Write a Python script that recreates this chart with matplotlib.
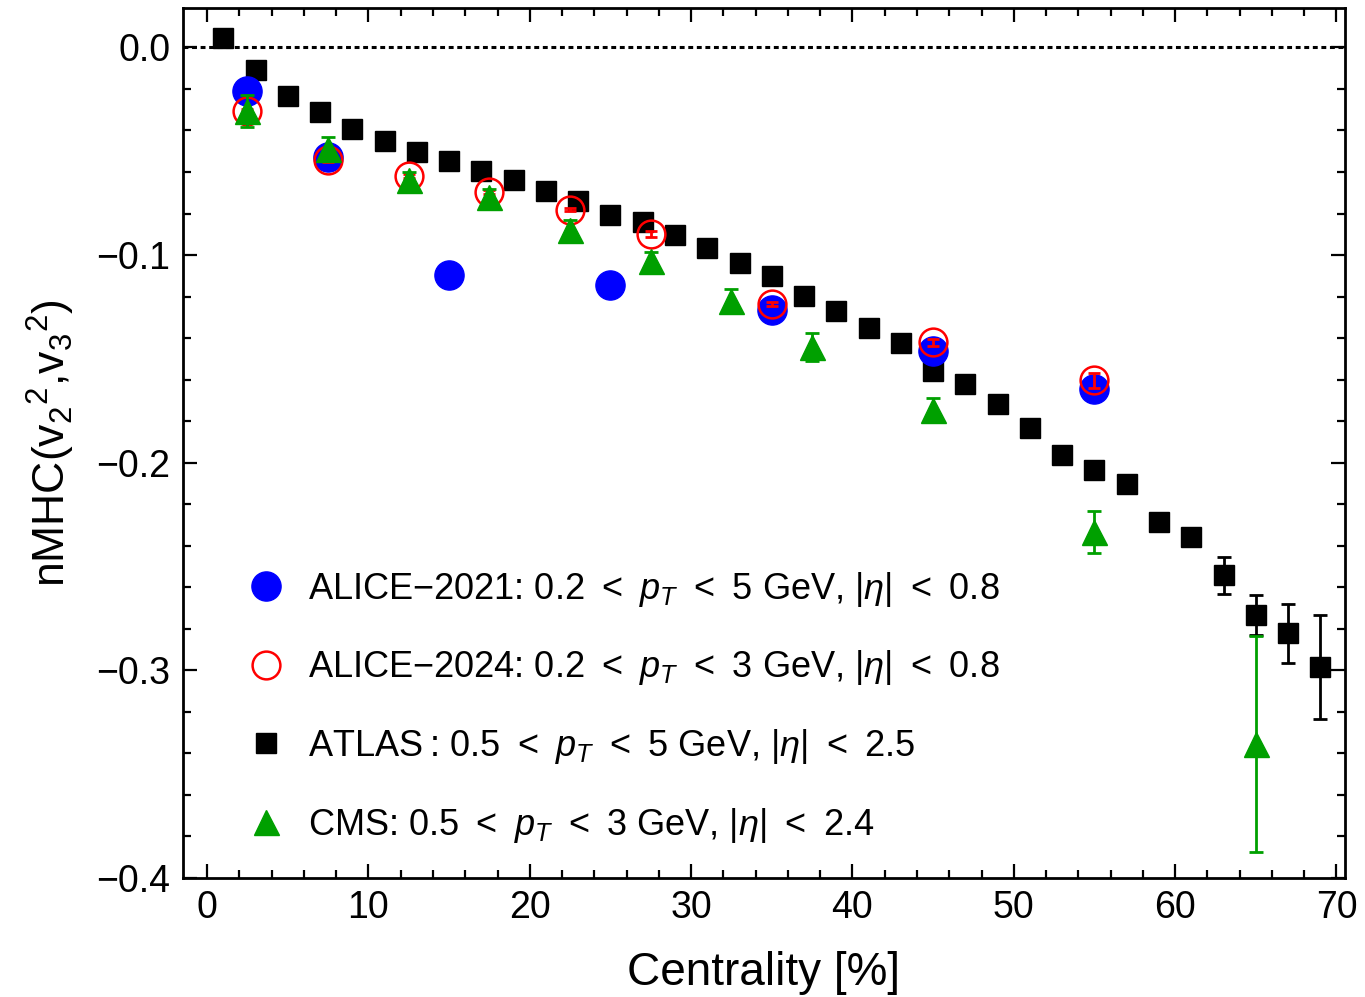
import matplotlib
matplotlib.use("Agg")
import matplotlib.pyplot as plt
from matplotlib.ticker import MultipleLocator, FuncFormatter

plt.rcParams['font.family'] = ['Liberation Sans', 'DejaVu Sans']
plt.rcParams['mathtext.fontset'] = 'custom'
plt.rcParams['mathtext.rm'] = 'Liberation Sans'
plt.rcParams['mathtext.it'] = 'Liberation Sans:italic'
plt.rcParams['mathtext.bf'] = 'Liberation Sans:bold'

# ATLAS
atlas_x = [1, 3, 5, 7, 9, 11, 13, 15, 17, 19, 21, 23, 25, 27, 29, 31, 33, 35, 37, 39,
           41, 43, 45, 47, 49, 51, 53, 55, 57, 59, 61, 63, 65, 67, 69]
atlas_y = [0.0043, -0.0111, -0.0236, -0.0313, -0.0395, -0.0452, -0.0505, -0.0549, -0.0597, -0.0640,
           -0.0693, -0.0741, -0.0809, -0.0842, -0.0905, -0.0967, -0.1040, -0.1102, -0.1199, -0.1271,
           -0.1353, -0.1425, -0.1559, -0.1622, -0.1718, -0.1834, -0.1964, -0.2036, -0.2103, -0.2286,
           -0.2359, -0.2541, -0.2734, -0.2821, -0.2984]
atlas_err = [0.001, 0.001, 0.001, 0.001, 0.001, 0.001, 0.001, 0.001, 0.001, 0.001,
             0.001, 0.001, 0.001, 0.001, 0.001, 0.001, 0.001, 0.001, 0.001, 0.001,
             0.001, 0.001, 0.002, 0.002, 0.002, 0.002, 0.002, 0.002, 0.003, 0.003,
             0.004, 0.0089, 0.0096, 0.0142, 0.025]

# ALICE-2021
alice21_x = [2.5, 7.5, 15, 25, 35, 45, 55]
alice21_y = [-0.0212, -0.0528, -0.1094, -0.1142, -0.1266, -0.146, -0.1645]

# ALICE-2024
alice24_x = [2.5, 7.5, 12.5, 17.5, 22.5, 27.5, 35, 45, 55]
alice24_y = [-0.0307, -0.054, -0.062, -0.0696, -0.0781, -0.090, -0.1237, -0.142, -0.1603]
alice24_err = [0.001, 0.001, 0.001, 0.001, 0.0008, 0.0014, 0.001, 0.0016, 0.0035]

# CMS
cms_x = [2.5, 7.5, 12.5, 17.5, 22.5, 27.5, 32.5, 37.5, 45, 55, 65]
cms_y = [-0.0307, -0.049, -0.064, -0.072, -0.088, -0.1027, -0.1223, -0.1444, -0.1747, -0.2335, -0.3355]
cms_err = [0.0077, 0.0058, 0.004, 0.004, 0.005, 0.004, 0.0058, 0.0068, 0.0058, 0.0102, 0.052]

sp = "\u2009"
lt = " " + sp + "<" + sp + " "
labels = ["ALICE\u22122021: 0.2" + lt + "$p_T$" + lt + "5 GeV, |$\\eta$|" + lt + "0.8",
          "ALICE\u22122024: 0.2" + lt + "$p_T$" + lt + "3 GeV, |$\\eta$|" + lt + "0.8",
          "ATLAS" + sp + ": 0.5" + lt + "$p_T$" + lt + "5 GeV, |$\\eta$|" + lt + "2.5",
          "CMS: 0.5" + lt + "$p_T$" + lt + "3 GeV, |$\\eta$|" + lt + "2.4"]

fig = plt.figure(figsize=(13.65, 9.97), dpi=100)
ax = fig.add_axes([0.134, 0.1194, 0.851, 0.8726])

ax.axhline(0, color='black', linestyle=(0, (1.6, 1.2)), linewidth=2.2, zorder=1)

green = '#00a000'

ax.errorbar(atlas_x, atlas_y, yerr=atlas_err, fmt='none', ecolor='black', elinewidth=2,
            capsize=5, capthick=2, zorder=2)
h3, = ax.plot(atlas_x, atlas_y, 's', color='black', markersize=14.5, linestyle='none', zorder=3)

h1, = ax.plot(alice21_x, alice21_y, 'o', color='#0000ff', markersize=21, linestyle='none', zorder=4)

h2, = ax.plot(alice24_x, alice24_y, 'o', markerfacecolor='none', markeredgecolor='#ff0000',
              markeredgewidth=1.8, markersize=20, linestyle='none', zorder=5)
ax.errorbar(alice24_x, alice24_y, yerr=alice24_err, fmt='none', ecolor='#ff0000', elinewidth=2,
            capsize=4, capthick=2, zorder=5)

ax.errorbar(cms_x, cms_y, yerr=cms_err, fmt='none', ecolor=green, elinewidth=2,
            capsize=5, capthick=2, zorder=6)
h4, = ax.plot(cms_x, cms_y, '^', color=green, markersize=18, linestyle='none', zorder=7)

ax.set_xlim(-1.5, 70.5)
ax.set_ylim(-0.4, 0.019)

ax.xaxis.set_major_locator(MultipleLocator(10))
ax.xaxis.set_minor_locator(MultipleLocator(2))
ax.yaxis.set_major_locator(MultipleLocator(0.1))
ax.yaxis.set_minor_locator(MultipleLocator(0.02))
ax.yaxis.set_major_formatter(FuncFormatter(lambda v, p: ("%.1f" % v).replace("-", "\u2212")))

ax.tick_params(which='both', direction='in', top=True, right=True, labelsize=27, width=1.6)
ax.tick_params(which='major', length=10, pad=9)
ax.tick_params(which='minor', length=5.5)
for s in ax.spines.values():
    s.set_linewidth(2)

ax.set_xlabel("Centrality [%]", fontsize=33, labelpad=18)
ax.set_ylabel("nMHC(v$_2$$^2$,v$_3$$^2$)", fontsize=32, labelpad=14)

ax.legend([h1, h2, h3, h4], labels, loc='lower left', bbox_to_anchor=(0.031, 0.009),
          frameon=False, fontsize=26, labelspacing=1.1, handletextpad=0.57,
          handlelength=1.2, borderpad=0.2)

fig.savefig("out.png", dpi=100)
